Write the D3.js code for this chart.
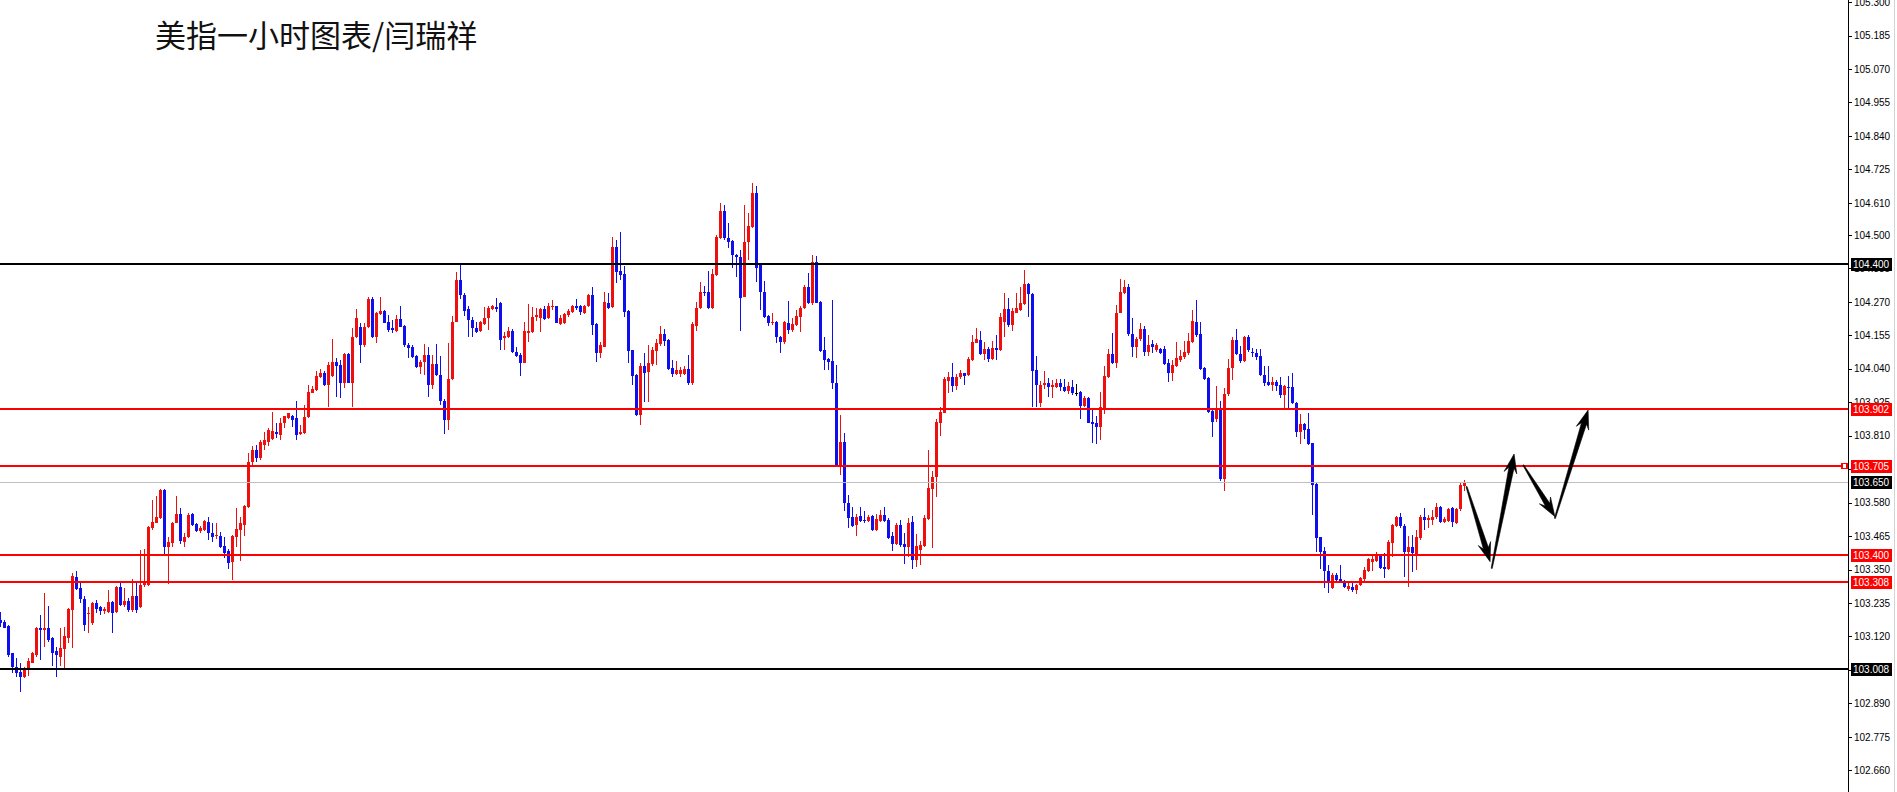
<!DOCTYPE html>
<html>
<head>
<meta charset="utf-8">
<script src="https://cdn.jsdelivr.net/npm/d3@7"></script>
<style>
  body { margin: 0; background: #fff; overflow: hidden; }
  svg { display: block; }
</style>
</head>
<body>
<svg id="chart" width="1897" height="792"></svg>
<script>
const width = 1897, height = 792, axisX = 1848;

// hourly candles, oldest first
const opens = [
  103.177,103.171,103.156,103.062,103.016,102.999,102.980,103.005,103.030,103.057,
  103.148,103.142,103.148,103.114,103.070,103.051,103.076,103.114,103.211,103.324,
  103.285,103.248,103.196,103.166,103.234,103.222,103.209,103.205,103.240,103.205,
  103.291,103.228,103.243,103.211,103.259,103.220,103.297,103.297,103.492,103.511,
  103.527,103.624,103.429,103.440,103.511,103.541,103.446,103.461,103.541,103.507,
  103.484,103.486,103.515,103.477,103.465,103.465,103.431,103.415,103.377,103.463,
  103.486,103.503,103.566,103.720,103.761,103.734,103.778,103.788,103.798,103.824,
  103.813,103.853,103.870,103.878,103.870,103.816,103.818,103.873,103.958,103.967,
  104.011,104.027,103.984,104.015,104.064,104.053,103.992,104.091,103.992,104.148,
  104.182,104.122,104.182,104.279,104.150,104.228,104.240,104.202,104.179,104.171,
  104.210,104.187,104.122,104.116,104.084,104.047,104.064,104.087,103.984,104.056,
  104.019,103.930,103.864,104.004,104.202,104.345,104.293,104.245,104.208,104.179,
  104.171,104.194,104.213,104.245,104.251,104.265,104.145,104.150,104.171,104.099,
  104.087,104.061,104.164,104.167,104.219,104.213,104.245,104.213,104.251,104.254,
  104.194,104.196,104.225,104.236,104.254,104.254,104.233,104.254,104.293,104.194,
  104.095,104.116,104.267,104.251,104.457,104.377,104.366,104.240,104.104,104.019,
  103.881,104.050,104.030,104.056,104.102,104.125,104.160,104.139,104.042,104.022,
  104.022,104.022,104.038,103.990,104.187,104.248,104.305,104.305,104.248,104.362,
  104.488,104.583,104.488,104.480,104.431,104.425,104.288,104.477,104.528,104.645,
  104.397,104.305,104.221,104.198,104.202,104.150,104.133,104.198,104.173,104.190,
  104.219,104.248,104.320,104.267,104.407,104.270,104.104,104.072,104.068,103.992,
  103.704,103.789,103.580,103.530,103.503,103.534,103.520,103.518,103.534,103.486,
  103.518,103.538,103.520,103.465,103.438,103.503,103.438,103.429,103.515,103.383,
  103.417,103.431,103.523,103.626,103.667,103.855,103.889,103.999,104.011,103.981,
  104.011,104.025,104.019,104.070,104.130,104.139,104.091,104.107,104.072,104.110,
  104.104,104.202,104.245,104.190,104.233,104.242,104.263,104.331,104.297,104.036,
  103.921,103.984,103.990,103.976,103.978,103.990,103.978,103.965,103.978,103.955,
  103.961,103.912,103.939,103.858,103.855,103.841,103.904,104.013,104.091,104.059,
  104.233,104.302,104.322,104.160,104.114,104.141,104.176,104.099,104.125,104.104,
  104.107,104.107,104.059,104.025,104.050,104.070,104.079,104.093,104.133,104.202,
  104.160,104.042,104.007,103.896,103.866,103.901,103.660,103.953,104.042,104.139,
  104.091,104.068,104.150,104.099,104.095,104.084,104.019,103.996,103.984,103.996,
  103.984,103.950,103.978,103.976,103.923,103.824,103.850,103.832,103.784,103.644,
  103.461,103.415,103.346,103.285,103.331,103.317,103.312,103.282,103.291,103.280,
  103.297,103.317,103.346,103.377,103.380,103.400,103.358,103.351,103.442,103.500,
  103.532,103.500,103.411,103.429,103.400,103.457,103.532,103.520,103.520,103.530,
  103.566,103.515,103.518,103.560,103.511,103.557,103.637
];
const highs = [
  103.204,103.177,103.158,103.064,103.045,103.028,103.016,103.045,103.068,103.152,
  103.194,103.271,103.225,103.119,103.085,103.148,103.154,103.217,103.337,103.345,
  103.303,103.259,103.222,103.240,103.245,103.225,103.222,103.280,103.243,103.294,
  103.308,103.285,103.251,103.317,103.305,103.417,103.420,103.500,103.589,103.603,
  103.626,103.626,103.463,103.515,103.603,103.560,103.475,103.545,103.545,103.509,
  103.500,103.520,103.532,103.509,103.511,103.480,103.463,103.420,103.469,103.560,
  103.530,103.572,103.750,103.775,103.778,103.795,103.823,103.836,103.893,103.853,
  103.870,103.878,103.889,103.881,103.930,103.847,103.916,103.984,103.981,104.033,
  104.038,104.033,104.064,104.141,104.076,104.070,104.093,104.093,104.179,104.244,
  104.196,104.196,104.288,104.288,104.236,104.286,104.242,104.225,104.208,104.225,
  104.256,104.190,104.128,104.122,104.087,104.070,104.125,104.116,104.087,104.125,
  104.084,103.935,104.130,104.221,104.374,104.400,104.299,104.254,104.219,104.202,
  104.205,104.251,104.254,104.259,104.283,104.271,104.167,104.185,104.176,104.116,
  104.093,104.202,104.263,104.251,104.248,104.248,104.256,104.267,104.276,104.256,
  104.225,104.233,104.245,104.259,104.279,104.259,104.259,104.297,104.320,104.198,
  104.133,104.305,104.302,104.492,104.482,104.511,104.393,104.242,104.105,104.022,
  104.059,104.093,104.122,104.116,104.141,104.187,104.176,104.141,104.070,104.068,
  104.047,104.050,104.087,104.202,104.270,104.339,104.324,104.377,104.382,104.500,
  104.611,104.603,104.542,104.482,104.434,104.448,104.603,104.576,104.679,104.668,
  104.402,104.343,104.225,104.233,104.205,104.153,104.205,104.274,104.213,104.242,
  104.254,104.328,104.368,104.431,104.427,104.274,104.148,104.076,104.276,104.053,
  103.881,103.820,103.606,103.564,103.541,103.566,103.552,103.538,103.538,103.541,
  103.555,103.566,103.527,103.480,103.511,103.520,103.477,103.527,103.534,103.472,
  103.449,103.538,103.761,103.690,103.866,103.910,104.011,104.030,104.061,104.022,
  104.036,104.027,104.079,104.156,104.179,104.171,104.133,104.114,104.137,104.156,
  104.231,104.299,104.283,104.248,104.299,104.322,104.379,104.336,104.301,104.084,
  103.999,104.033,104.007,104.001,104.004,104.004,104.004,103.996,104.001,103.988,
  103.965,103.946,103.944,103.898,103.876,103.961,104.050,104.107,104.162,104.259,
  104.347,104.345,104.331,104.213,104.150,104.198,104.187,104.156,104.139,104.128,
  104.110,104.118,104.072,104.070,104.133,104.104,104.137,104.164,104.242,104.276,
  104.202,104.047,104.011,103.898,103.981,103.930,103.973,104.072,104.150,104.176,
  104.118,104.153,104.156,104.110,104.107,104.107,104.050,104.050,104.011,104.001,
  104.011,103.984,104.015,104.027,103.927,103.885,103.855,103.887,103.786,103.646,
  103.463,103.429,103.366,103.337,103.339,103.366,103.314,103.308,103.303,103.300,
  103.326,103.358,103.389,103.400,103.411,103.404,103.406,103.452,103.507,103.534,
  103.545,103.507,103.465,103.469,103.486,103.538,103.560,103.538,103.555,103.578,
  103.568,103.532,103.560,103.564,103.560,103.646,103.656
];
const lows = [
  103.153,103.148,103.051,102.996,102.980,102.930,102.978,102.984,103.028,103.051,
  103.039,103.085,103.102,103.019,102.980,103.019,103.007,103.097,103.080,103.280,
  103.234,103.140,103.133,103.160,103.201,103.194,103.197,103.201,103.133,103.201,
  103.225,103.222,103.205,103.205,103.200,103.217,103.291,103.294,103.486,103.509,
  103.525,103.404,103.300,103.426,103.509,103.438,103.429,103.457,103.500,103.480,
  103.475,103.484,103.452,103.446,103.454,103.423,103.389,103.351,103.314,103.426,
  103.380,103.465,103.560,103.710,103.720,103.727,103.761,103.775,103.795,103.801,
  103.795,103.836,103.866,103.841,103.795,103.813,103.816,103.870,103.955,103.965,
  104.007,103.981,103.910,104.013,103.944,103.939,103.973,103.990,103.910,104.145,
  104.059,104.116,104.179,104.145,104.130,104.225,104.196,104.167,104.164,104.167,
  104.182,104.116,104.076,104.076,104.042,104.022,104.019,103.944,103.969,104.015,
  103.916,103.816,103.830,104.001,104.199,104.279,104.221,104.148,104.148,104.162,
  104.167,104.190,104.173,104.242,104.236,104.104,104.104,104.145,104.093,104.082,
  104.015,104.059,104.133,104.162,104.205,104.167,104.208,104.210,104.242,104.196,
  104.190,104.194,104.219,104.233,104.242,104.225,104.228,104.251,104.156,104.064,
  104.076,104.114,104.245,104.248,104.334,104.345,104.219,104.059,103.984,103.878,
  103.847,103.927,103.927,104.050,104.053,104.118,104.118,104.036,104.013,104.019,
  104.013,104.019,103.984,103.984,104.171,104.245,104.290,104.245,104.245,104.359,
  104.485,104.482,104.454,104.385,104.354,104.171,104.286,104.414,104.523,104.338,
  104.242,104.216,104.187,104.190,104.130,104.095,104.125,104.160,104.167,104.187,
  104.167,104.245,104.263,104.259,104.265,104.099,104.036,104.036,103.969,103.701,
  103.675,103.552,103.492,103.497,103.465,103.515,103.511,103.515,103.484,103.484,
  103.515,103.515,103.454,103.415,103.434,103.426,103.369,103.394,103.351,103.358,
  103.366,103.429,103.520,103.423,103.598,103.809,103.887,103.958,103.961,103.967,
  104.004,103.984,104.015,104.068,104.128,104.087,104.070,104.064,104.070,104.070,
  104.101,104.150,104.185,104.171,104.231,104.240,104.259,104.219,103.910,103.910,
  103.908,103.969,103.942,103.939,103.973,103.965,103.961,103.953,103.950,103.946,
  103.866,103.908,103.853,103.784,103.781,103.795,103.885,104.007,104.056,104.042,
  104.231,104.297,104.153,104.079,104.076,104.137,104.084,104.084,104.093,104.099,
  104.091,104.053,103.996,103.999,104.047,104.064,104.072,104.087,104.130,104.150,
  104.036,104.001,103.889,103.807,103.858,103.655,103.621,103.946,104.001,104.087,
  104.061,104.064,104.099,104.082,104.070,104.015,103.981,103.981,103.965,103.965,
  103.939,103.904,103.904,103.919,103.805,103.781,103.798,103.778,103.538,103.411,
  103.351,103.285,103.268,103.282,103.303,103.303,103.285,103.277,103.274,103.266,
  103.294,103.303,103.343,103.346,103.377,103.351,103.320,103.349,103.394,103.497,
  103.492,103.326,103.291,103.343,103.349,103.452,103.486,103.492,103.503,103.523,
  103.511,103.511,103.515,103.497,103.507,103.552,103.621
];
const closes = [
  103.166,103.150,103.057,103.016,102.996,102.980,103.005,103.034,103.062,103.148,
  103.142,103.148,103.108,103.064,103.057,103.080,103.122,103.214,103.328,103.282,
  103.248,103.160,103.200,103.236,103.214,103.209,103.214,103.240,103.201,103.291,
  103.228,103.243,103.211,103.259,103.211,103.297,103.305,103.497,103.515,103.532,
  103.624,103.429,103.446,103.511,103.541,103.449,103.463,103.538,103.503,103.484,
  103.492,103.518,103.475,103.463,103.469,103.429,103.408,103.374,103.465,103.488,
  103.509,103.568,103.721,103.761,103.734,103.788,103.795,103.830,103.827,103.816,
  103.853,103.876,103.887,103.864,103.813,103.821,103.873,103.961,103.969,104.015,
  104.027,103.984,104.053,104.064,104.050,103.992,104.091,103.992,104.148,104.213,
  104.122,104.182,104.279,104.148,104.231,104.240,104.198,104.173,104.173,104.210,
  104.185,104.122,104.110,104.082,104.047,104.064,104.087,103.984,104.056,104.019,
  103.930,103.864,104.004,104.202,104.345,104.293,104.240,104.208,104.179,104.167,
  104.202,104.213,104.248,104.254,104.245,104.139,104.153,104.171,104.099,104.084,
  104.061,104.171,104.170,104.219,104.225,104.245,104.210,104.254,104.254,104.198,
  104.213,104.228,104.240,104.254,104.248,104.236,104.256,104.293,104.190,104.095,
  104.122,104.270,104.248,104.457,104.374,104.362,104.236,104.102,104.015,103.881,
  104.050,104.027,104.061,104.104,104.130,104.160,104.137,104.038,104.022,104.036,
  104.036,104.038,103.992,104.194,104.248,104.305,104.302,104.248,104.366,104.492,
  104.583,104.488,104.477,104.431,104.423,104.282,104.477,104.531,104.645,104.386,
  104.305,104.219,104.196,104.202,104.148,104.133,104.202,104.173,104.194,104.221,
  104.248,104.320,104.267,104.407,104.267,104.102,104.070,104.064,103.992,103.704,
  103.789,103.580,103.527,103.500,103.532,103.518,103.518,103.532,103.486,103.523,
  103.538,103.518,103.457,103.438,103.503,103.434,103.429,103.511,103.383,103.431,
  103.434,103.527,103.629,103.669,103.858,103.892,104.004,104.011,103.981,104.013,
  104.025,104.015,104.072,104.133,104.141,104.091,104.107,104.072,104.110,104.104,
  104.219,104.245,104.190,104.240,104.248,104.267,104.331,104.297,104.033,103.984,
  103.984,103.992,103.976,103.984,103.990,103.976,103.965,103.981,103.958,103.955,
  103.912,103.939,103.855,103.850,103.841,103.908,104.015,104.091,104.061,104.233,
  104.305,104.322,104.160,104.114,104.141,104.176,104.099,104.122,104.114,104.122,
  104.093,104.056,104.025,104.053,104.076,104.084,104.099,104.137,104.205,104.156,
  104.038,104.004,103.893,103.858,103.901,103.660,103.953,104.042,104.139,104.091,
  104.068,104.150,104.104,104.095,104.082,104.019,103.990,103.984,103.996,103.981,
  103.950,103.981,103.973,103.921,103.824,103.850,103.830,103.781,103.641,103.457,
  103.411,103.346,103.303,103.331,103.314,103.308,103.291,103.294,103.280,103.297,
  103.320,103.349,103.385,103.385,103.400,103.354,103.351,103.446,103.503,103.532,
  103.500,103.411,103.429,103.406,103.463,103.532,103.520,103.527,103.532,103.566,
  103.515,103.523,103.557,103.515,103.557,103.641,103.650
];

const tickValues = [105.300,105.185,105.070,104.955,104.840,104.725,104.610,104.500,104.385,104.270,104.155,104.040,
  103.925,103.810,103.695,103.580,103.465,103.350,103.235,103.120,103.005,102.890,102.775,102.660];
const blackLevels = [104.400, 103.008];
const redLevels = [103.902, 103.705, 103.400, 103.308];
const lastPrice = 103.650;
// forecast arrows: [bar index, price] from -> to
const arrowPaths = [
  [[366.5, 103.635], [372.4, 103.377]],
  [[372.8, 103.354], [378.4, 103.747]],
  [[380.7, 103.709], [388.6, 103.532]],
  [[388.6, 103.526], [396.9, 103.898]]
];
const title = "美指一小时图表/闫瑞祥";

const candles = opens.map((o, i) => ({ i, o, h: highs[i], l: lows[i], c: closes[i] }));

const x = d3.scaleLinear().domain([0, 366]).range([0.5, 1464.5]);
const y = d3.scaleLinear().domain([102.660, 105.300]).range([770.3, 2.1]);

const svg = d3.select("#chart");
svg.append("rect").attr("width", width).attr("height", height).attr("fill", "#fff");

const candleColor = d => d.c > d.o ? "#ee0f0f" : (d.c < d.o ? "#0f0fee" : "#000");

const g = svg.append("g").attr("shape-rendering", "crispEdges");
g.selectAll("rect.wick").data(candles).join("rect").attr("class", "wick")
  .attr("x", d => Math.floor(x(d.i)))
  .attr("y", d => Math.round(y(d.h)))
  .attr("width", 1)
  .attr("height", d => Math.max(1, Math.round(y(d.l)) - Math.round(y(d.h))))
  .attr("fill", candleColor);
g.selectAll("rect.body").data(candles).join("rect").attr("class", "body")
  .attr("x", d => Math.floor(x(d.i)) - 1)
  .attr("y", d => Math.round(y(Math.max(d.o, d.c))))
  .attr("width", 3)
  .attr("height", d => Math.max(1, Math.round(y(Math.min(d.o, d.c))) - Math.round(y(Math.max(d.o, d.c)))))
  .attr("fill", candleColor);

// level lines
const lines = svg.append("g").attr("shape-rendering", "crispEdges");
lines.append("line").attr("x1", 0).attr("x2", axisX).attr("y1", Math.round(y(lastPrice)) + 0.5).attr("y2", Math.round(y(lastPrice)) + 0.5)
  .attr("stroke", "#c0c0c0").attr("stroke-width", 1);
lines.selectAll("line.red").data(redLevels).join("line").attr("class", "red")
  .attr("x1", 0).attr("x2", axisX).attr("y1", d => Math.round(y(d))).attr("y2", d => Math.round(y(d)))
  .attr("stroke", "#f00").attr("stroke-width", 2);
lines.selectAll("line.black").data(blackLevels).join("line").attr("class", "black")
  .attr("x1", 0).attr("x2", axisX).attr("y1", d => Math.round(y(d))).attr("y2", d => Math.round(y(d)))
  .attr("stroke", "#000").attr("stroke-width", 2);
lines.append("rect").attr("x", axisX - 6).attr("y", Math.round(y(103.705)) - 2.5).attr("width", 5).attr("height", 5)
  .attr("fill", "#fff").attr("stroke", "#f00").attr("stroke-width", 1.5);

// arrows
function arrowShape(from, to) {
  const sx = x(from[0]), sy = y(from[1]), tx = x(to[0]), ty = y(to[1]);
  const len = Math.hypot(tx - sx, ty - sy), ux = (tx - sx) / len, uy = (ty - sy) / len;
  const nx = -uy, ny = ux;
  const headLen = 19, barb = 6.5, neck = 2.6;
  const bx = tx - ux * headLen, by = ty - uy * headLen;
  const kx = bx + ux * 5, ky = by + uy * 5;
  const p = [
    [sx + nx * 0.5, sy + ny * 0.5], [kx + nx * neck, ky + ny * neck], [bx + nx * barb, by + ny * barb], [tx, ty],
    [bx - nx * barb, by - ny * barb], [kx - nx * neck, ky - ny * neck], [sx - nx * 0.5, sy - ny * 0.5]
  ];
  return "M" + p.map(q => q[0].toFixed(1) + "," + q[1].toFixed(1)).join("L") + "Z";
}
svg.append("g").selectAll("path").data(arrowPaths).join("path")
  .attr("d", d => arrowShape(d[0], d[1])).attr("fill", "#000").attr("stroke", "#000").attr("stroke-width", 0.6);

// price axis
const axisG = svg.append("g").attr("transform", `translate(${axisX},0)`)
  .call(d3.axisRight(y).tickValues(tickValues).tickFormat(d3.format(".3f")).tickSize(4).tickSizeOuter(0).tickPadding(2));
axisG.select(".domain").remove();
axisG.selectAll("line").attr("stroke", "#000").attr("shape-rendering", "crispEdges");
axisG.selectAll("text").attr("fill", "#000").style("font", "10px 'Liberation Sans', Arial, sans-serif");
svg.append("line").attr("x1", axisX + 0.5).attr("x2", axisX + 0.5).attr("y1", 0).attr("y2", height)
  .attr("stroke", "#000").attr("stroke-width", 1).attr("shape-rendering", "crispEdges");
svg.append("line").attr("x1", 1894.5).attr("x2", 1894.5).attr("y1", 0).attr("y2", height)
  .attr("stroke", "#d4d4d4").attr("stroke-width", 1);

// highlighted price tags
const tags = [
  ...blackLevels.map(v => ({ v, fill: "#000" })),
  ...redLevels.map(v => ({ v, fill: "#f00" })),
  { v: lastPrice, fill: "#000" }
];
const tagG = svg.append("g").selectAll("g").data(tags).join("g")
  .attr("transform", d => `translate(${axisX + 3},${Math.round(y(d.v))})`);
tagG.append("rect").attr("x", 0).attr("y", -6.5).attr("width", 41).attr("height", 13).attr("fill", d => d.fill)
  .attr("shape-rendering", "crispEdges");
tagG.append("text").attr("x", 2).attr("y", 0).attr("dy", "0.35em").attr("fill", "#fff")
  .style("font", "10px 'Liberation Sans', Arial, sans-serif").text(d => d.v.toFixed(3));

svg.append("text").attr("x", 155).attr("y", 47).attr("fill", "#111")
  .style("font", "31px 'Noto Sans CJK SC', sans-serif").text(title);
</script>
</body>
</html>
